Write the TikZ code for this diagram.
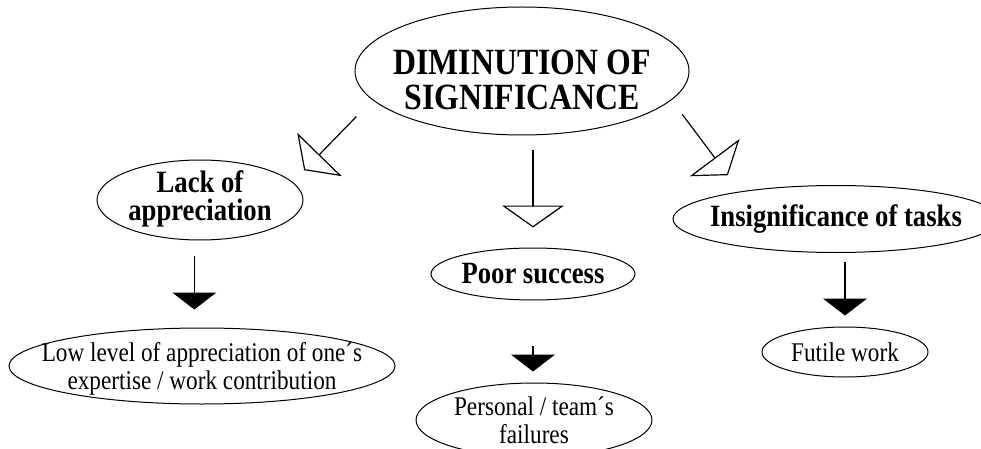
\documentclass[tikz,border=0pt]{standalone}
\usepackage{fontspec}
\setmainfont{Liberation Serif}[FakeStretch=0.86]
\usepackage{tikz}
\usetikzlibrary{arrows.meta, shapes.geometric, positioning}

\tikzset{
    bubble/.style = {ellipse, draw, line width=1pt, inner sep=0pt},
    headText/.style = {font=\bfseries\fontsize{37}{35}\selectfont, align=center},
    boldText/.style = {font=\bfseries\fontsize{31}{28}\selectfont, align=center},
    plainText/.style = {font=\fontsize{27}{28}\selectfont, align=center},
    openArrow/.style = {-{Triangle[open, width=62pt, length=22pt]}, line width=1.2pt},
    fullArrow/.style = {-{Triangle[width=44pt, length=17pt]}, line width=1.2pt}
}

\begin{document}
\begin{tikzpicture}[x=1pt, y=1pt]
    \useasboundingbox (0,0) rectangle (981,-449);

    \node[bubble, minimum width=334pt, minimum height=128pt,
        label={[headText, yshift=-9pt]center:DIMINUTION OF\\SIGNIFICANCE}] (main) at (522,-71) {};

    \node[bubble, minimum width=206pt, minimum height=80pt,
        label={[boldText, yshift=1pt]center:Lack of\\appreciation}] (lack) at (200,-200) {};
    \node[bubble, minimum width=204pt, minimum height=52pt,
        label={[boldText]center:Poor success}] (poor) at (533,-274) {};
    \node[bubble, minimum width=326pt, minimum height=67pt,
        label={[boldText]center:Insignificance of tasks}] (insig) at (836,-219) {};

    \node[bubble, minimum width=386pt, minimum height=76pt,
        label={[plainText, yshift=-3pt]center:Low level of appreciation of one´s\\expertise / work contribution}] (low) at (202,-366) {};
    \node[bubble, minimum width=236pt, minimum height=74pt,
        label={[plainText]center:Personal / team´s\\failures}] (pers) at (534,-420) {};
    \node[bubble, minimum width=166pt, minimum height=50pt,
        label={[plainText]center:Futile work}] (futile) at (845,-352) {};

    \draw[openArrow, shorten <=23pt, shorten >=16.4pt] (main.191.5) -- (lack.11.5);
    \draw[openArrow, shorten <=15pt, shorten >=20pt] (main.south -| poor.north) -- (poor.north);
    \draw[openArrow, shorten <=17.9pt, shorten >=20.3pt] (main.349.1) -- (insig.164.1);

    \draw[fullArrow, shorten <=16pt, shorten >=18pt] (lack.262) -- (lack.262 |- low.north);
    \draw[fullArrow, shorten <=45pt, shorten >=11pt] (poor.south) -- (poor.south |- pers.north);
    \draw[fullArrow, shorten <=9pt, shorten >=11pt] (insig.south -| futile.north) -- (futile.north);
\end{tikzpicture}
\end{document}
